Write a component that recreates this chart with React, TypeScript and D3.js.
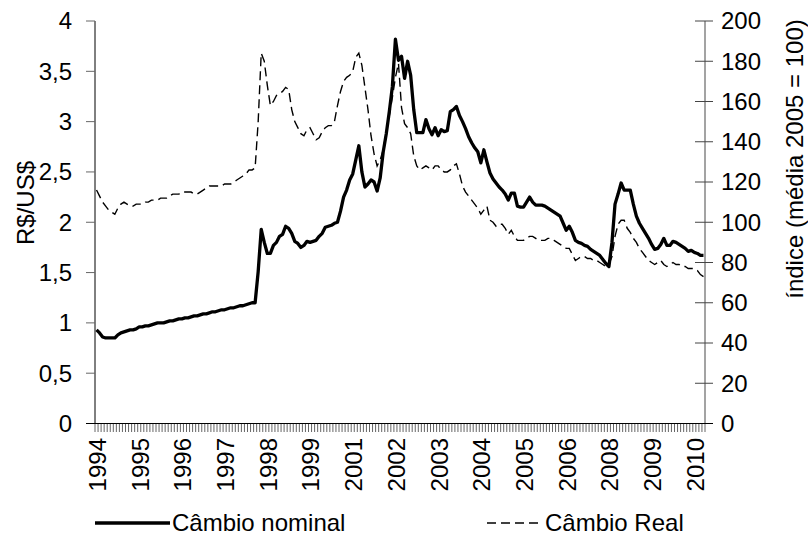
import React from "react";
import * as d3 from "d3";

const nominal: number[] = [
  0.93, 0.90, 0.86, 0.85, 0.85, 0.85, 0.85, 0.88, 0.90, 0.91,
  0.92, 0.93, 0.93, 0.94, 0.96, 0.96, 0.97, 0.97, 0.98, 0.99,
  1.00, 1.00, 1.00, 1.01, 1.02, 1.02, 1.03, 1.04, 1.04, 1.05,
  1.05, 1.06, 1.07, 1.07, 1.08, 1.09, 1.09, 1.10, 1.11, 1.11,
  1.12, 1.13, 1.13, 1.14, 1.15, 1.15, 1.16, 1.17, 1.17, 1.18,
  1.19, 1.20, 1.20, 1.51, 1.93, 1.80, 1.69, 1.69, 1.77, 1.80,
  1.86, 1.88, 1.96, 1.94, 1.89, 1.81, 1.79, 1.75, 1.77, 1.81,
  1.80, 1.81, 1.82, 1.86, 1.89, 1.95, 1.96, 1.97, 1.99, 2.00,
  2.11, 2.25, 2.32, 2.42, 2.48, 2.62, 2.76, 2.50, 2.35, 2.38,
  2.42, 2.40, 2.31, 2.44, 2.70, 2.88, 3.10, 3.35, 3.82, 3.61,
  3.65, 3.43, 3.60, 3.46, 3.12, 2.89, 2.89, 2.89, 3.02, 2.93,
  2.87, 2.94, 2.86, 2.92, 2.90, 2.91, 3.10, 3.12, 3.15, 3.06,
  3.00, 2.93, 2.85, 2.79, 2.74, 2.70, 2.59, 2.72, 2.60, 2.49,
  2.43, 2.39, 2.35, 2.32, 2.28, 2.22, 2.29, 2.29, 2.16, 2.15,
  2.15, 2.20, 2.25, 2.20, 2.17, 2.17, 2.17, 2.16, 2.14, 2.12,
  2.10, 2.08, 2.06, 1.99, 1.92, 1.96, 1.90, 1.82, 1.80, 1.79,
  1.77, 1.76, 1.73, 1.71, 1.69, 1.67, 1.63, 1.59, 1.56, 1.80,
  2.18, 2.28, 2.39, 2.32, 2.32, 2.32, 2.18, 2.06, 1.99, 1.94,
  1.89, 1.84, 1.78, 1.73, 1.74, 1.78, 1.84, 1.77, 1.77, 1.81,
  1.80, 1.78, 1.76, 1.74, 1.71, 1.72, 1.70, 1.69, 1.67, 1.67,
];

const real: number[] = [
  116, 113, 110, 108, 106, 105, 104, 107, 109, 110,
  109, 108, 108, 109, 109, 109, 110, 110, 111, 111,
  111, 112, 112, 112, 113, 114, 114, 114, 115, 115,
  115, 115, 114, 114, 115, 116, 117, 118, 118, 118,
  118, 118, 119, 119, 119, 120, 121, 122, 123, 124,
  126, 126, 127, 150, 184, 180, 168, 158, 160, 163,
  164, 165, 167, 166, 156, 150, 147, 144, 143, 146,
  147, 144, 141, 142, 145, 147, 148, 148, 150, 158,
  165, 170, 172, 173, 175, 182, 184, 178, 167, 156,
  143, 134, 128, 131, 136, 145, 153, 162, 172, 179,
  157, 149, 147, 144, 133, 128, 126, 127, 128, 127,
  126, 128, 128, 126, 125, 125, 126, 128, 129, 124,
  118, 115, 113, 111, 109, 107, 104, 106, 108, 101,
  100, 98, 99, 99, 97, 94, 96, 93, 91, 91,
  91, 92, 93, 93, 92, 91, 91, 91, 92, 92,
  91, 90, 89, 88, 87, 87, 84, 81, 82, 83,
  83, 82, 82, 81, 81, 80, 79, 78, 79, 83,
  93, 99, 101, 101, 97, 95, 92, 90, 87, 85,
  83, 81, 80, 79, 80, 81, 79, 78, 79, 80,
  79, 79, 78, 78, 77, 77, 77, 76, 74, 73,
];

const yearLabels: string[] = [
  "1994", "1995", "1996", "1997", "1998", "1999", "2001", "2002",
  "2003", "2004", "2005", "2006", "2008", "2009", "2010",
];
const labelEvery = 14;

const leftTicks: number[] = [0, 0.5, 1, 1.5, 2, 2.5, 3, 3.5, 4];
const rightTicks: number[] = [0, 20, 40, 60, 80, 100, 120, 140, 160, 180, 200];

const W = 808;
const H = 536;
const L = 95;
const R = 705;
const T = 21;
const B = 423.5;
const FONT = "'Liberation Sans', Arial, sans-serif";
const FS = 24;

export default function App() {
  const n = nominal.length;
  const band = d3.scaleBand<number>().domain(d3.range(n)).range([L, R]).padding(0);
  const cx = (i: number) => (band(i) as number) + band.bandwidth() / 2;
  const yL = d3.scaleLinear().domain([0, 4]).range([B, T]);
  const yR = d3.scaleLinear().domain([0, 200]).range([B, T]);

  const lineN = d3.line<number>().x((_, i) => cx(i)).y((d) => yL(d));
  const lineR = d3.line<number>().x((_, i) => cx(i)).y((d) => yR(d));

  const fmt = (v: number) => String(v).replace(".", ",");

  return (
    <svg width={W} height={H} style={{ position: "absolute", left: 0, top: 0, background: "#fff" }} fontFamily={FONT}>
      <rect x={0} y={0} width={W} height={H} fill="#fff" />
      {/* data lines */}
      <path d={lineR(real) || ""} fill="none" stroke="#000" strokeWidth={1.4} strokeDasharray="9,5" />
      <path d={lineN(nominal) || ""} fill="none" stroke="#000" strokeWidth={3.3} strokeLinejoin="round" />

      {/* left axis */}
      <line x1={L} x2={L} y1={T} y2={B} stroke="#000" strokeWidth={1} />
      {leftTicks.map((t) => (
        <g key={"l" + t}>
          <line x1={L - 9} x2={L} y1={yL(t)} y2={yL(t)} stroke="#666" strokeWidth={1} />
          <text x={72} y={yL(t)} dy="0.35em" textAnchor="end" fontSize={FS} fill="#000">
            {fmt(t)}
          </text>
        </g>
      ))}
      <text transform={`translate(34,203) rotate(-90)`} textAnchor="middle" fontSize={FS} fill="#000">
        R$/US$
      </text>

      {/* right axis */}
      <line x1={R} x2={R} y1={T} y2={B} stroke="#666" strokeWidth={1.2} />
      {rightTicks.map((t) => (
        <g key={"r" + t}>
          <line x1={R - 10} x2={R + 8} y1={yR(t)} y2={yR(t)} stroke="#444" strokeWidth={1} />
          <text x={721} y={yR(t)} dy="0.35em" textAnchor="start" fontSize={FS} fill="#000">
            {t}
          </text>
        </g>
      ))}
      <text transform={`translate(803,159) rotate(-90)`} textAnchor="middle" fontSize={FS} fill="#000">
        índice (média 2005 = 100)
      </text>

      {/* x axis */}
      {d3.range(n + 1).map((i) => {
        const x = L + i * band.bandwidth();
        return <line key={"xt" + i} x1={x} x2={x} y1={B} y2={B + 8.5} stroke="#555" strokeWidth={0.9} />;
      })}
      <line x1={L - 9} x2={R + 8} y1={B} y2={B} stroke="#000" strokeWidth={1} />
      {yearLabels.map((lab, k) => {
        const i = k * labelEvery;
        return (
          <text
            key={lab}
            transform={`translate(${cx(i) + 1},438) rotate(-90)`}
            textAnchor="end"
            dy="0.35em"
            fontSize={FS}
            fill="#000"
          >
            {lab}
          </text>
        );
      })}

      {/* legend */}
      <line x1={95} x2={170} y1={523} y2={523} stroke="#000" strokeWidth={3.3} />
      <text x={172} y={523} dy="0.35em" fontSize={FS} fill="#000">
        Câmbio nominal
      </text>
      <line x1={487} x2={543} y1={523} y2={523} stroke="#000" strokeWidth={1.4} strokeDasharray="9,5" />
      <text x={545} y={523} dy="0.35em" fontSize={FS} fill="#000">
        Câmbio Real
      </text>
    </svg>
  );
}
